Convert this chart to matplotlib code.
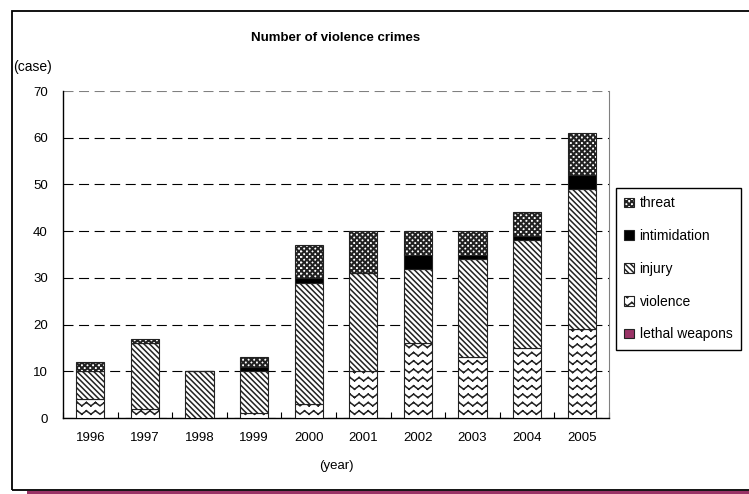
import warnings
import numpy as np
import matplotlib
matplotlib.use("Agg")
import matplotlib.pyplot as plt
import matplotlib.hatch as mhatch
from matplotlib.path import Path
from matplotlib.patches import Rectangle

warnings.filterwarnings("ignore")

years = ["1996", "1997", "1998", "1999", "2000", "2001", "2002", "2003", "2004", "2005"]
lethal = [0, 0, 0, 0, 0, 0, 0, 0, 0, 0]
violence = [4, 2, 0, 1, 3, 10, 16, 13, 15, 19]
injury = [6, 14, 10, 9, 26, 21, 16, 21, 23, 30]
intimidation = [0, 0, 0, 1, 1, 0, 3, 1, 1, 3]
threat = [2, 1, 0, 2, 7, 9, 5, 5, 5, 9]


# extra hatch: zigzag rows ('w') and checkerboard ('k')
class WaveHatch(mhatch.HatchPatternBase):
    def __init__(self, hatch, density):
        self.rows = hatch.count('w') * 12
        self.cols = 11
        self.num_vertices = self.rows * self.cols * 2 * 2

    def set_vertices_and_codes(self, vertices, codes):
        amp = 0.017
        i = 0
        for r in range(self.rows):
            y0 = (r + 0.5) / self.rows
            xs = np.linspace(0, 1, 2 * self.cols + 1)
            ys = y0 + np.where(np.arange(len(xs)) % 2 == 0, -amp, amp)
            for k in range(len(xs) - 1):
                vertices[i] = xs[k], ys[k]
                vertices[i + 1] = xs[k + 1], ys[k + 1]
                codes[i] = Path.MOVETO
                codes[i + 1] = Path.LINETO
                i += 2


class CheckHatch(mhatch.HatchPatternBase):
    def __init__(self, hatch, density):
        self.n = hatch.count('k') * 18
        self.num_vertices = self.n * self.n * 2 * 5

    def set_vertices_and_codes(self, vertices, codes):
        p = 1.0 / max(self.n, 1)
        s = p * 0.38
        i = 0
        for a in range(self.n):
            for b in range(self.n):
                for dx, dy in ((0.25, 0.25), (0.75, 0.75)):
                    cx, cy = (a + dx) * p, (b + dy) * p
                    vertices[i:i + 5] = [(cx - s / 2, cy - s / 2), (cx + s / 2, cy - s / 2),
                                         (cx + s / 2, cy + s / 2), (cx - s / 2, cy + s / 2),
                                         (cx - s / 2, cy - s / 2)]
                    codes[i] = Path.MOVETO
                    codes[i + 1:i + 4] = Path.LINETO
                    codes[i + 4] = Path.CLOSEPOLY
                    i += 5


mhatch._hatch_types.append(WaveHatch)
mhatch._hatch_types.append(CheckHatch)

plt.rcParams['font.family'] = ['Liberation Sans', 'DejaVu Sans']
plt.rcParams['hatch.linewidth'] = 1.1

fig = plt.figure(figsize=(7.49, 4.94), dpi=100)
ax = fig.add_axes([63 / 749, 76 / 494, 546 / 749, 327 / 494])

x = np.arange(len(years))
w = 0.52
ec = '#222222'
layers = [
    ("lethal weapons", lethal, dict(color='#993366')),
    ("violence", violence, dict(color='white', hatch='w')),
    ("injury", injury, dict(color='white', hatch='\\\\\\\\\\\\')),
    ("intimidation", intimidation, dict(color='black')),
    ("threat", threat, dict(color='white', hatch='k')),
]
bottom = np.zeros(len(years))
handles = []
for name, vals, st in layers:
    vals = np.array(vals, dtype=float)
    bars = ax.bar(x, vals, w, bottom=bottom, edgecolor=ec, linewidth=0.8,
                  label=name, zorder=3, **st)
    handles.append(bars)
    bottom += vals

ax.set_xlim(-0.5, len(years) - 0.5)
ax.set_ylim(0, 70)
ax.set_yticks(range(0, 71, 10))
ax.set_xticks(x)
ax.set_xticklabels(years)
ax.set_xticks(np.arange(-0.5, len(years)), minor=True)
ax.tick_params(axis='x', which='major', length=0, pad=10, labelsize=9.5)
ax.tick_params(axis='x', which='minor', direction='in', length=4, width=0.8)
ax.tick_params(axis='y', length=0, pad=11, labelsize=9.5)

ax.yaxis.grid(True, color='black', linestyle=(0, (9, 5)), linewidth=0.8, zorder=1)
ax.get_ygridlines()[-1].set_color('#808080')
ax.set_axisbelow(True)
ax.spines['top'].set_visible(False)
ax.spines['right'].set_color('#808080')
ax.spines['right'].set_linewidth(0.8)
ax.spines['left'].set_linewidth(1.0)
ax.spines['bottom'].set_linewidth(1.0)

fig.text(336 / 749, 1 - 38 / 494, "Number of violence crimes", ha='center', va='center',
         fontsize=9.5, fontweight='bold')
fig.text(13 / 749, 1 - 67 / 494, "(case)", ha='left', va='center', fontsize=10)
fig.text(336 / 749, 1 - 466 / 494, "(year)", ha='center', va='center', fontsize=9.5)

fig.legend(handles[::-1], [l[0] for l in layers][::-1], loc='upper left',
           bbox_to_anchor=(616 / 749, 1 - 188 / 494), borderaxespad=0,
           fancybox=False, edgecolor='black', framealpha=1, fontsize=10,
           handlelength=0.7, handleheight=0.7, handletextpad=0.4,
           labelspacing=1.35, borderpad=0.6)

# outer frame and bottom strip
fig.patches.append(Rectangle((12 / 749, 4 / 494), 1.2, 479 / 494, transform=fig.transFigure,
                             fill=False, edgecolor='black', linewidth=1.3, clip_on=False))
fig.patches.append(Rectangle((27 / 749, 0), 1.0, 3 / 494, transform=fig.transFigure,
                             facecolor='#993366', edgecolor='none'))

fig.savefig("out.png", dpi=100)
